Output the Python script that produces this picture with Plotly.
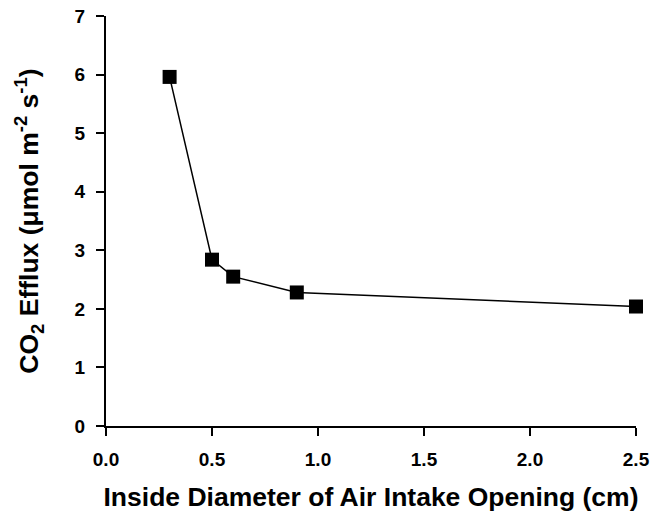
import plotly.graph_objects as go

# Inside diameter (cm) vs CO2 efflux (umol m-2 s-1)
diameter = [0.3, 0.5, 0.6, 0.9, 2.5]
efflux = [5.96, 2.84, 2.55, 2.28, 2.04]

x_ticks = [0.0, 0.5, 1.0, 1.5, 2.0, 2.5]
x_tick_labels = ["0.0", "0.5", "1.0", "1.5", "2.0", "2.5"]
y_ticks = [0, 1, 2, 3, 4, 5, 6, 7]

font_family = "Liberation Sans, Arial, sans-serif"

fig = go.Figure()

fig.add_trace(
    go.Scatter(
        x=diameter,
        y=efflux,
        mode="lines+markers",
        line=dict(color="black", width=1.5),
        marker=dict(symbol="square", size=14, color="black"),
        cliponaxis=False,
        showlegend=False,
    )
)

axis_common = dict(
    showgrid=False,
    zeroline=False,
    showline=True,
    linecolor="black",
    linewidth=2,
    ticks="outside",
    ticklen=8,
    tickwidth=1.5,
    tickcolor="black",
    ticklabeloverflow="allow",
    automargin=False,
    tickfont=dict(family=font_family, size=19, color="black", weight="bold"),
)

fig.update_layout(
    width=663,
    height=516,
    margin=dict(l=106, r=27, t=16, b=90),
    plot_bgcolor="white",
    paper_bgcolor="white",
    xaxis=dict(
        range=[0, 2.5],
        tickvals=x_ticks,
        ticktext=x_tick_labels,
        ticklabelstandoff=7,
        title=dict(
            text="Inside Diameter of Air Intake Opening (cm)",
            font=dict(family=font_family, size=26.5, color="black", weight="bold"),
            standoff=19,
        ),
        **axis_common,
    ),
    yaxis=dict(
        range=[0, 7],
        tickvals=y_ticks,
        ticklabelstandoff=7,
        title=dict(
            text="CO<sub>2</sub> Efflux (μmol m<sup>-2</sup> s<sup>-1</sup>)",
            font=dict(family=font_family, size=26.5, color="black", weight="bold"),
            standoff=28,
        ),
        **axis_common,
    ),
)

# drop the default 8px body margin so the figure fills the window exactly
fig.write_html(
    "out.html",
    config={"displayModeBar": False},
    post_script="document.body.style.margin = '0';",
)
